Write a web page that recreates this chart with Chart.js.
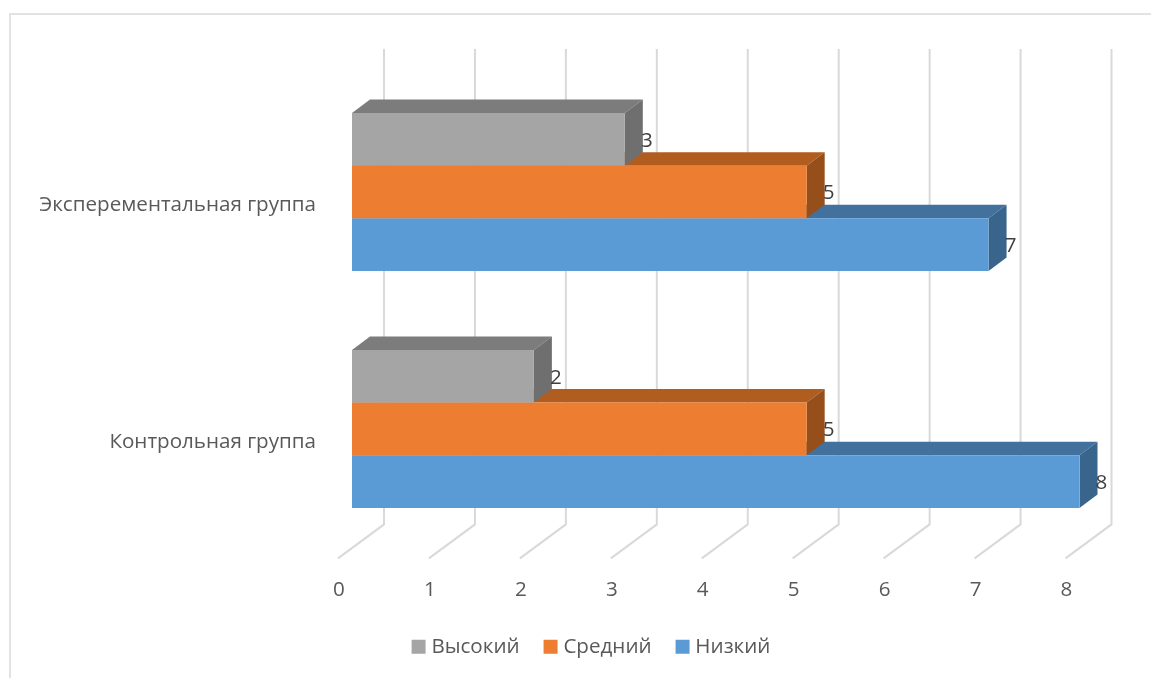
<!DOCTYPE html>
<html><head><meta charset="utf-8">
<style>html,body{margin:0;padding:0;background:#fff}#w{width:1151px;height:678px;position:relative}</style>
<script src="https://cdn.jsdelivr.net/npm/chart.js@4"></script>
</head><body><div id="w"><canvas id="c" width="1151" height="678"></canvas></div>
<script>
const categories = ["Эксперементальная группа", "Контрольная группа"];
const seriesNames = ["Высокий", "Средний", "Низкий"];
const high = [3, 2];
const mid = [5, 5];
const low = [7, 8];
const frontColors = ["#a5a5a5", "#ed7d31", "#5b9bd5"];
const topColors = ["#7c7c7c", "#b25d20", "#41719c"];
const sideColors = ["#6f6f6f", "#964f1b", "#39648b"];
const FONT = "'Open Sans'";
const FS = 20.6;
const DX = 18, DY = 13.5;

const scene = {
  id: 'scene',
  afterLayout(chart) {
    const lg = chart.legend;
    const shift = 53.5;
    lg.left += shift; lg.right += shift;
    const h = lg.bottom - lg.top;
    lg.top = 608; lg.bottom = 608 + h;
  },
  beforeDraw(chart) {
    const c = chart.ctx;
    c.save();
    c.fillStyle = '#fff'; c.fillRect(0, 0, chart.width, chart.height);
    c.strokeStyle = '#e2e2e2'; c.lineWidth = 2;
    c.beginPath(); c.moveTo(10, 678); c.lineTo(10, 14); c.lineTo(1151, 14); c.stroke();
    c.restore();
  },
  beforeDatasetsDraw(chart) {
    const c = chart.ctx, x = chart.scales.x, a = chart.chartArea;
    c.save();
    c.strokeStyle = '#d9d9d9'; c.lineWidth = 2;
    x.ticks.forEach((t) => {
      const p = x.getPixelForValue(t.value);
      c.beginPath();
      c.moveTo(p + 32, a.top - 24.5);
      c.lineTo(p + 32, a.bottom - 23);
      c.lineTo(p - 14, a.bottom + 11);
      c.stroke();
    });
    for (let d = chart.data.datasets.length - 1; d >= 0; d--) {
      chart.getDatasetMeta(d).data.forEach((b) => {
        const t = b.y - b.height / 2, bt = b.y + b.height / 2, l = b.base, r = b.x;
        c.fillStyle = topColors[d];
        c.beginPath(); c.moveTo(l, t); c.lineTo(l + DX, t - DY); c.lineTo(r + DX, t - DY); c.lineTo(r, t); c.closePath(); c.fill();
        c.fillStyle = sideColors[d];
        c.beginPath(); c.moveTo(r, t); c.lineTo(r + DX, t - DY); c.lineTo(r + DX, bt - DY); c.lineTo(r, bt); c.closePath(); c.fill();
      });
    }
    c.restore();
  },
  afterDatasetsDraw(chart) {
    const c = chart.ctx;
    c.save();
    c.font = FS + "px " + FONT; c.fillStyle = '#404040';
    c.textAlign = 'center'; c.textBaseline = 'middle';
    chart.data.datasets.forEach((ds, d) => {
      chart.getDatasetMeta(d).data.forEach((b, i) => {
        c.fillText(String(ds.data[i]), b.x + 22, b.y + 1.5);
      });
    });
    c.restore();
  }
};

new Chart(document.getElementById('c'), {
  type: 'bar',
  data: {
    labels: categories,
    datasets: [high, mid, low].map((v, i) => ({
      label: seriesNames[i], data: v, backgroundColor: frontColors[i],
      categoryPercentage: 0.6667, barPercentage: 1, borderWidth: 0
    }))
  },
  options: {
    indexAxis: 'y', responsive: false, animation: false,
    layout: { padding: { top: 73.5, right: 71.5, left: 0, bottom: 0 } },
    scales: {
      x: {
        min: 0, max: 8,
        grid: { display: false }, border: { display: false },
        ticks: { stepSize: 1, color: '#595959', font: { family: FONT, size: FS }, padding: 22, labelOffset: -13, maxRotation: 0 },
        afterFit(s) { s.height = 71.5; }
      },
      y: {
        grid: { display: false }, border: { display: false },
        ticks: { color: '#595959', font: { family: FONT, size: FS }, padding: 28, labelOffset: 13 },
        afterFit(s) { s.width = 352; }
      }
    },
    plugins: {
      tooltip: { enabled: false },
      title: { display: false },
      legend: {
        position: 'bottom',
        labels: {
          usePointStyle: true, pointStyle: 'rect', boxWidth: 5, boxHeight: 14, padding: 28.5,
          color: '#595959', font: { family: FONT, size: FS }
        }
      }
    }
  },
  plugins: [scene]
});
</script></body></html>
